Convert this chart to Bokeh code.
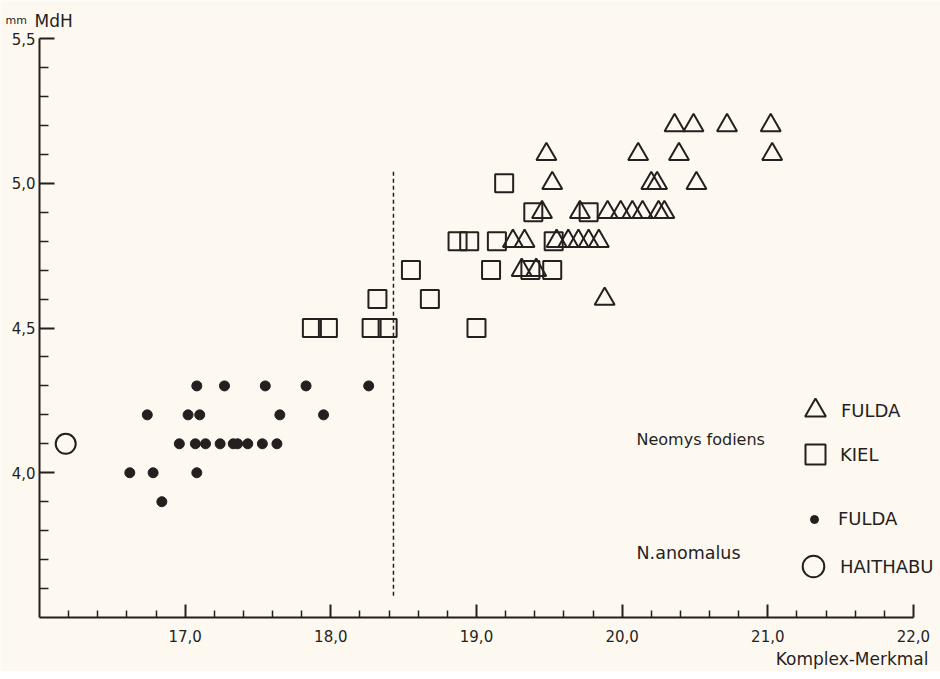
from bokeh.plotting import figure
from bokeh.models import (FixedTicker, CustomJSTickFormatter, Label, Legend,
                          LegendItem, Range1d)
from bokeh.embed import file_html
from bokeh.resources import INLINE

# ---------------- data ----------------
# N. anomalus, FULDA (filled dots)
anomalus_fulda_x = [17.08, 17.27, 17.55, 17.83, 18.26,
                    16.74, 17.02, 17.10, 17.65, 17.95,
                    16.96, 17.07, 17.14, 17.24, 17.33, 17.36, 17.43, 17.53, 17.63,
                    16.62, 16.78, 17.08,
                    16.84]
anomalus_fulda_y = [4.3, 4.3, 4.3, 4.3, 4.3,
                    4.2, 4.2, 4.2, 4.2, 4.2,
                    4.1, 4.1, 4.1, 4.1, 4.1, 4.1, 4.1, 4.1, 4.1,
                    4.0, 4.0, 4.0,
                    3.9]

# N. anomalus, HAITHABU (open circle)
anomalus_haithabu_x = [16.18]
anomalus_haithabu_y = [4.1]

# Neomys fodiens, KIEL (squares)
fodiens_kiel_x = [17.87, 17.98, 18.28, 18.39, 19.00,
                  18.32, 18.68,
                  18.55, 19.10, 19.37, 19.52,
                  18.87, 18.95, 19.14, 19.53,
                  19.39, 19.77,
                  19.19]
fodiens_kiel_y = [4.5, 4.5, 4.5, 4.5, 4.5,
                  4.6, 4.6,
                  4.7, 4.7, 4.7, 4.7,
                  4.8, 4.8, 4.8, 4.8,
                  4.9, 4.9,
                  5.0]

# Neomys fodiens, FULDA (triangles)
fodiens_fulda_x = [19.88,
                   19.31, 19.41,
                   19.25, 19.33, 19.55, 19.63, 19.70, 19.77, 19.84,
                   19.45, 19.71, 19.90, 19.99, 20.07, 20.14, 20.25, 20.29,
                   19.52, 20.20, 20.24, 20.51,
                   19.48, 20.11, 20.39, 21.03,
                   20.36, 20.49, 20.72, 21.02]
fodiens_fulda_y = [4.6,
                   4.7, 4.7,
                   4.8, 4.8, 4.8, 4.8, 4.8, 4.8, 4.8,
                   4.9, 4.9, 4.9, 4.9, 4.9, 4.9, 4.9, 4.9,
                   5.0, 5.0, 5.0, 5.0,
                   5.1, 5.1, 5.1, 5.1,
                   5.2, 5.2, 5.2, 5.2]

# dashed separating line
divider_x = [18.43]
divider_y_bottom = [3.575]
divider_y_top = [5.045]

# axes
x_axis_bounds = (16.0, 22.0)
y_axis_bounds = (3.5, 5.5)
x_major_ticks = [17.0, 18.0, 19.0, 20.0, 21.0, 22.0]
x_minor_ticks = [round(16.0 + 0.2 * i, 1) for i in range(1, 30) if i % 5 != 0]
y_major_ticks = [4.0, 4.5, 5.0, 5.5]
y_minor_ticks = [round(3.5 + 0.1 * i, 1) for i in range(1, 20) if i % 5 != 0]

# ---------------- style ----------------
INK = "#251f1f"
BG = "#fdf9f1"
FONT = "DejaVu Sans"

# the frame fills the whole canvas; the axes sit at fixed data positions
p = figure(width=940, height=671,
           x_range=Range1d(15.7323, 22.1855), y_range=Range1d(3.3135, 5.6313),
           output_backend="svg", toolbar_location=None,
           min_border_left=0, min_border_right=0,
           min_border_top=0, min_border_bottom=0)
p.background_fill_color = BG
p.border_fill_color = BG
p.outline_line_color = None
p.xgrid.grid_line_color = None
p.ygrid.grid_line_color = None

fmt = CustomJSTickFormatter(code="return tick.toFixed(1).replace('.', ',');")

xa = p.xaxis[0]
xa.fixed_location = y_axis_bounds[0]
xa.bounds = x_axis_bounds
xa.ticker = FixedTicker(ticks=x_major_ticks, minor_ticks=x_minor_ticks)
xa.formatter = fmt
xa.major_tick_in = 13
xa.major_tick_out = 0
xa.minor_tick_in = 7
xa.minor_tick_out = 0
xa.major_label_standoff = 12

ya = p.yaxis[0]
ya.fixed_location = x_axis_bounds[0]
ya.bounds = y_axis_bounds
ya.ticker = FixedTicker(ticks=y_major_ticks, minor_ticks=y_minor_ticks)
ya.formatter = fmt
ya.major_tick_in = 15
ya.major_tick_out = 0
ya.minor_tick_in = 9
ya.minor_tick_out = 0
ya.major_label_standoff = 4

for ax in (xa, ya):
    ax.axis_line_color = INK
    ax.axis_line_width = 2
    ax.major_tick_line_color = INK
    ax.major_tick_line_width = 2
    ax.minor_tick_line_color = INK
    ax.minor_tick_line_width = 1.5
    ax.major_label_text_font = FONT
    ax.major_label_text_font_size = "15px"
    ax.major_label_text_color = INK

# ---------------- marks ----------------
p.segment(x0=divider_x, y0=divider_y_bottom, x1=divider_x, y1=divider_y_top,
          line_color=INK, line_width=1.5, line_dash="4 3")

r_sq = p.scatter(fodiens_kiel_x, fodiens_kiel_y, marker="square", size=18,
                 fill_color=None, line_color=INK, line_width=2)
r_tri = p.scatter(fodiens_fulda_x, fodiens_fulda_y, marker="triangle", size=20,
                  fill_color=None, line_color=INK, line_width=2)
r_dot = p.scatter(anomalus_fulda_x, anomalus_fulda_y, marker="circle", size=10,
                  fill_color=INK, line_color=INK, line_width=1)
r_circ = p.scatter(anomalus_haithabu_x, anomalus_haithabu_y, marker="circle", size=20,
                   fill_color=None, line_color=INK, line_width=2)

# ---------------- legends ----------------
def make_legend(label, renderer, loc, box, standoff):
    lg = Legend(items=[LegendItem(label=label, renderers=[renderer])],
                location=loc, glyph_width=box, glyph_height=box,
                label_standoff=standoff, padding=0, margin=0, spacing=0,
                border_line_alpha=0, background_fill_alpha=0,
                label_text_font=FONT, label_text_font_size="18px",
                label_text_color=INK, label_text_baseline="middle")
    p.add_layout(lg)

make_legend("FULDA", r_tri, (789, 235), 52, 0)
make_legend("KIEL", r_sq, (790, 192), 50, 0)
make_legend("FULDA", r_dot, (804, 142), 20, 14)
make_legend("HAITHABU", r_circ, (786, 78), 54, 0)

# ---------------- texts ----------------
def add_text(txt, x, y, size, align="left"):
    p.add_layout(Label(x=x, y=y, x_units="screen", y_units="screen", text=txt,
                       text_font=FONT, text_font_size=size, text_color=INK,
                       text_align=align, text_baseline="alphabetic"))

add_text("mm", 5, 651, "11px")
add_text("MdH", 34, 651, "17px")
add_text("Komplex-Merkmal", 928, 13, "17px", align="right")
add_text("Neomys fodiens", 636, 232, "16px")
add_text("N.anomalus", 636, 119, "17.5px")

open("out.html", "w").write(file_html(p, INLINE))
